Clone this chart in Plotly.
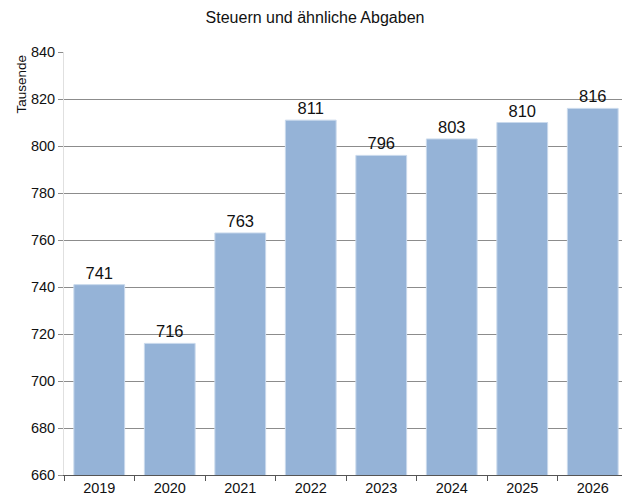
import plotly.graph_objects as go

years = ["2019", "2020", "2021", "2022", "2023", "2024", "2025", "2026"]
values = [741, 716, 763, 811, 796, 803, 810, 816]
title = "Steuern und ähnliche Abgaben"
y_title = "Tausende"

font_family = "Liberation Sans, Arial"

fig = go.Figure(go.Bar(
    x=years, y=values,
    text=[str(v) for v in values],
    textposition="outside",
    textfont=dict(size=16.5, color="#111111", family=font_family),
    marker=dict(color="#95B3D7", line=dict(color="#C9D9EC", width=1)),
    cliponaxis=False,
))

fig.update_layout(
    width=622, height=490,
    margin=dict(l=56, r=2, t=44, b=23),
    paper_bgcolor="white", plot_bgcolor="white",
    bargap=0.28,
    showlegend=False,
    font=dict(family=font_family, color="#111111"),
    title=dict(text=title, x=0.4936, xanchor="center", y=0.98, yanchor="middle",
               font=dict(size=16, family=font_family, color="#111111")),
    annotations=[dict(text=y_title, xref="paper", yref="paper", x=-0.0745, y=1.0,
                      xanchor="center", yanchor="top", textangle=-90, showarrow=False,
                      font=dict(size=13.5, family=font_family, color="#111111"))],
)

fig.update_yaxes(
    range=[660, 840], dtick=20, tick0=660,
    showgrid=True, gridcolor="#8C8C8C", gridwidth=1,
    ticks="outside", ticklen=5, tickcolor="#8C8C8C",
    showline=True, linecolor="#E0E0E0", linewidth=1,
    tickfont=dict(size=14.5, family=font_family, color="#111111"),
    zeroline=False,
)
fig.update_xaxes(
    type="category",
    ticks="outside", tickson="boundaries", ticklen=5, tickcolor="#555555",
    showline=True, linecolor="#555555", linewidth=1,
    tickfont=dict(size=14.5, family=font_family, color="#111111"),
    showgrid=False,
)

fig.write_html("out.html")
